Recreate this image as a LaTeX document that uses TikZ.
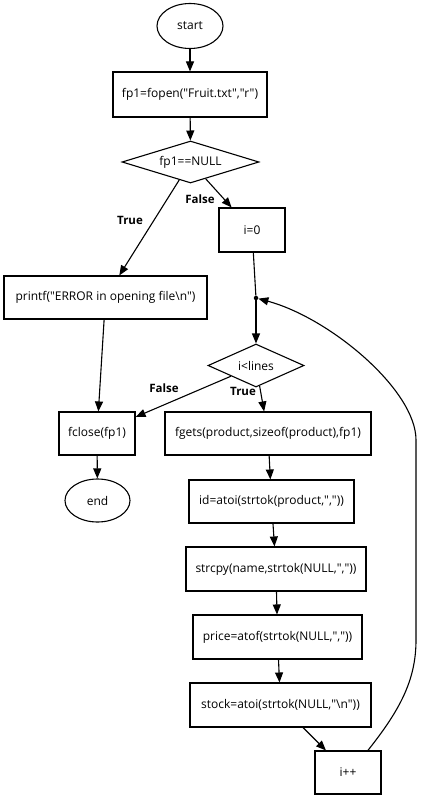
\documentclass[tikz,border=0pt]{standalone}
\usepackage{fontspec}
\setmainfont{Open Sans}[Ligatures=TeXOff]
\usetikzlibrary{shapes.geometric,arrows.meta}
\begin{document}
\begin{tikzpicture}[x=1pt,y=-1pt,
  every node/.style={font=\fontsize{12}{14}\selectfont},
  box/.style={draw,line width=1.1pt,rectangle,inner sep=0pt},
  term/.style={draw,line width=1.1pt,ellipse,inner sep=0pt},
  dec/.style={draw,line width=1.1pt,diamond,inner sep=0pt},
  lbl/.style={font=\fontsize{11.5}{13}\selectfont\bfseries},
  arr/.style={line width=1.1pt,-{Triangle[length=10pt,width=8pt]}},
  ln/.style={line width=1.1pt}]
\fill[white] (0,0) rectangle (421,800);
\useasboundingbox (0,0) rectangle (421,800);
\node[term,minimum width=66pt,minimum height=45pt] (start) at (190,26) {start};
\node[box,minimum width=154pt,minimum height=45pt] (fopen) at (190,94.5) {fp1=fopen("Fruit.txt","r")};
\node[dec,aspect=3.26,minimum width=137pt,minimum height=42pt] (d1) at (190.5,162) {fp1==NULL};
\node[box,minimum width=66pt,minimum height=44pt] (i0) at (252,230) {i=0};
\node[box,minimum width=203pt,minimum height=43pt] (printf) at (105.5,297.5) {printf("ERROR in opening file\textbackslash n")};
\node[circle,fill,inner sep=0pt,minimum size=4.5pt] (dot) at (256,298) {};
\node[dec,aspect=2.23,minimum width=96pt,minimum height=43pt] (d2) at (256,365.5) {i<lines};
\node[box,minimum width=76pt,minimum height=43pt] (fclose) at (97,433.5) {fclose(fp1)};
\node[term,minimum width=65pt,minimum height=43pt] (end) at (97.5,500.5) {end};
\node[box,minimum width=206pt,minimum height=43pt] (fgets) at (268,433.5) {fgets(product,sizeof(product),fp1)};
\node[box,minimum width=165pt,minimum height=43pt] (id) at (271.5,501.5) {id=atoi(strtok(product,","))};
\node[box,minimum width=180pt,minimum height=44pt] (strcpy) at (276,569) {strcpy(name,strtok(NULL,","))};
\node[box,minimum width=169pt,minimum height=44pt] (price) at (277.5,637) {price=atof(strtok(NULL,","))};
\node[box,minimum width=181pt,minimum height=44pt] (stock) at (280.5,705) {stock=atoi(strtok(NULL,"\textbackslash n"))};
\node[box,minimum width=66pt,minimum height=43pt] (ipp) at (348,772.5) {i++};
\node[lbl] (t1) at (130,220) {True};
\node[lbl] (f1) at (200,199) {False};
\node[lbl] (f2) at (164,388) {False};
\node[lbl] (t2) at (243,391) {True};
\draw[arr] (start) -- (fopen);
\draw[arr] (fopen) -- (d1);
\draw[arr] (d1) -- (i0);
\draw[arr] (d1) -- (printf);
\draw[ln] (i0) -- (dot);
\draw[arr] (dot) -- (d2);
\draw[arr] (d2) -- (fclose);
\draw[arr] (d2) -- (fgets);
\draw[arr] (printf) -- (fclose);
\draw[arr] (fclose) -- (end);
\draw[arr] (fgets) -- (id);
\draw[arr] (id) -- (strcpy);
\draw[arr] (strcpy) -- (price);
\draw[arr] (price) -- (stock);
\draw[arr] (stock) -- (ipp);
\draw[arr] (ipp.48) .. controls (400,710) and (416,680) .. (416,640) -- (416,440) .. controls (416,390) and (330,318) .. (dot);
\end{tikzpicture}
\end{document}
